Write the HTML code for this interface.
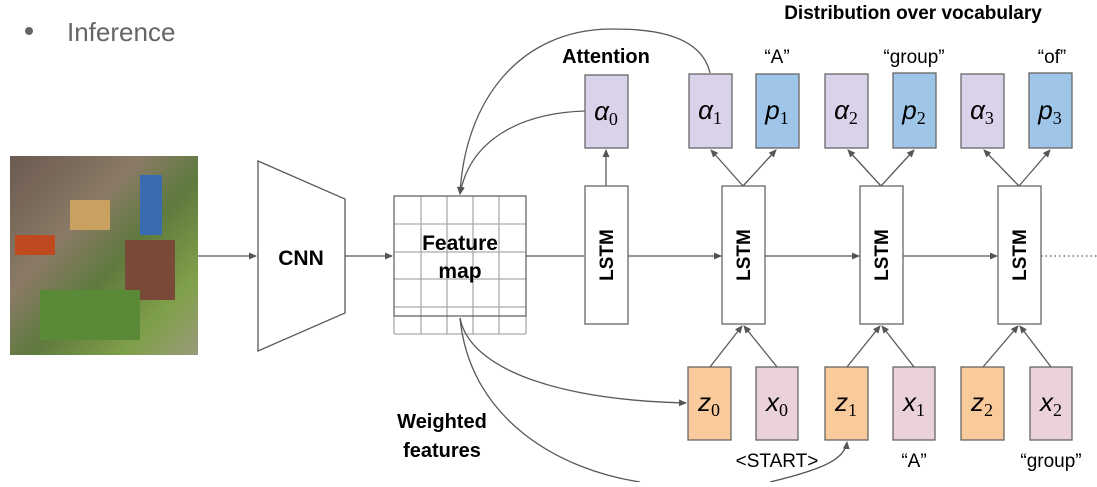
<!DOCTYPE html>
<html><head><meta charset="utf-8"><style>
body{margin:0;background:#fff;}
svg text{font-family:"Liberation Sans",sans-serif;}
.m{font-family:"Liberation Serif",serif;font-style:italic;font-size:26px;}
.s{font-family:"Liberation Serif",serif;font-style:normal;font-size:18px;}
</style></head><body>
<svg width="1097" height="482" viewBox="0 0 1097 482" xmlns="http://www.w3.org/2000/svg">
<defs><marker id="a" markerWidth="8" markerHeight="8" refX="7" refY="4" orient="auto" markerUnits="userSpaceOnUse"><path d="M0,0.5 L8,4 L0,7.5z" fill="#555"/></marker></defs>
<circle cx="29" cy="31" r="4" fill="#666"/>
<text x="67" y="41" font-size="26" fill="#666">Inference</text>
<defs><linearGradient id="ig" x1="0" y1="0" x2="1" y2="1">
<stop offset="0" stop-color="#6b5a50"/><stop offset="0.35" stop-color="#8a7a66"/><stop offset="0.55" stop-color="#5e7a3e"/><stop offset="0.8" stop-color="#7fa04a"/><stop offset="1" stop-color="#9a9a7a"/></linearGradient></defs>
<rect x="10" y="156" width="188" height="199" fill="url(#ig)"/>
<rect x="140" y="175" width="22" height="60" fill="#3a6ab0"/>
<rect x="70" y="200" width="40" height="30" fill="#c8a060"/>
<rect x="125" y="240" width="50" height="60" fill="#7a4a38"/>
<rect x="15" y="235" width="40" height="20" fill="#c04a20"/>
<rect x="40" y="290" width="100" height="50" fill="#5a8a38"/>
<g stroke="#595959" stroke-width="1.3" fill="none">
<line x1="198" y1="256" x2="256" y2="256" marker-end="url(#a)"/>
<polygon points="258,161 345,199 345,313 258,351" fill="#fff"/>
<line x1="345" y1="256" x2="392" y2="256" marker-end="url(#a)"/>
</g>
<text x="301" y="265" font-size="21" font-weight="bold" text-anchor="middle">CNN</text>
<g stroke="#aaa" stroke-width="1.3">
<line x1="421" y1="196" x2="421" y2="334"/><line x1="447" y1="196" x2="447" y2="334"/><line x1="473" y1="196" x2="473" y2="334"/><line x1="499" y1="196" x2="499" y2="334"/>
<line x1="394" y1="224" x2="526" y2="224"/><line x1="394" y1="252" x2="526" y2="252"/><line x1="394" y1="279" x2="526" y2="279"/><line x1="394" y1="307" x2="526" y2="307"/><line x1="394" y1="334" x2="526" y2="334"/>
<line x1="394" y1="316" x2="394" y2="334"/><line x1="526" y1="316" x2="526" y2="334"/>
</g>
<rect x="394" y="196" width="132" height="120" fill="none" stroke="#666" stroke-width="1.3"/>
<text x="460" y="250" font-size="21" font-weight="bold" text-anchor="middle">Feature</text>
<text x="460" y="278" font-size="21" font-weight="bold" text-anchor="middle">map</text>
<g stroke="#595959" stroke-width="1.3" fill="none">
<line x1="526" y1="256" x2="584" y2="256"/>
<line x1="627" y1="256" x2="721" y2="256" marker-end="url(#a)"/>
<line x1="765" y1="256" x2="859" y2="256" marker-end="url(#a)"/>
<line x1="903" y1="256" x2="997" y2="256" marker-end="url(#a)"/>
<line x1="1041" y1="256" x2="1097" y2="256" stroke-dasharray="1.5 3"/>
<path d="M585,111 C520,113 470,140 460,194" marker-end="url(#a)"/>
<path d="M710,73 C700,30 640,29 610,29 C520,30 465,100 460,194" marker-end="url(#a)"/>
<line x1="606" y1="186" x2="606" y2="150" marker-end="url(#a)"/>
<path d="M460,318 C470,370 560,400 686,403" marker-end="url(#a)"/>
<path d="M460,318 C470,420 560,470 640,482"/>
<path d="M770,482 C820,470 845,460 847,442" marker-end="url(#a)"/>
</g>
<text x="606" y="63" font-size="20" font-weight="bold" text-anchor="middle">Attention</text>
<text x="913" y="19" font-size="19" font-weight="bold" text-anchor="middle">Distribution over vocabulary</text>
<text x="442" y="428" font-size="20" font-weight="bold" text-anchor="middle">Weighted</text>
<text x="442" y="457" font-size="20" font-weight="bold" text-anchor="middle">features</text>
<g stroke="#666" stroke-width="1.3" fill="#fff">
<rect x="585" y="186" width="43" height="138"/>
<rect x="722" y="186" width="43" height="138"/>
<rect x="860" y="186" width="43" height="138"/>
<rect x="998" y="186" width="43" height="138"/>
</g>
<g font-size="19" font-weight="bold">
<text transform="translate(613,255) rotate(-90)" text-anchor="middle">LSTM</text>
<text transform="translate(750,255) rotate(-90)" text-anchor="middle">LSTM</text>
<text transform="translate(888,255) rotate(-90)" text-anchor="middle">LSTM</text>
<text transform="translate(1026,255) rotate(-90)" text-anchor="middle">LSTM</text>
</g>
<g stroke="#666" stroke-width="1.3">
<rect x="585" y="75" width="43" height="73" fill="#d9d2e9"/>
<rect x="689" y="74" width="43" height="74" fill="#d9d2e9"/>
<rect x="756" y="74" width="43" height="74" fill="#9fc5e8"/>
<rect x="825" y="74" width="43" height="74" fill="#d9d2e9"/>
<rect x="893" y="73" width="43" height="75" fill="#9fc5e8"/>
<rect x="961" y="74" width="43" height="74" fill="#d9d2e9"/>
<rect x="1029" y="73" width="43" height="75" fill="#9fc5e8"/>
<rect x="688" y="367" width="43" height="73" fill="#f9cb9c"/>
<rect x="756" y="367" width="42" height="73" fill="#ead1dc"/>
<rect x="825" y="367" width="43" height="73" fill="#f9cb9c"/>
<rect x="893" y="367" width="42" height="73" fill="#ead1dc"/>
<rect x="961" y="367" width="43" height="73" fill="#f9cb9c"/>
<rect x="1030" y="367" width="42" height="73" fill="#ead1dc"/>
</g>
<g stroke="#595959" stroke-width="1.3">
<line x1="743" y1="186" x2="711" y2="150" marker-end="url(#a)"/><line x1="743" y1="186" x2="776" y2="150" marker-end="url(#a)"/>
<line x1="881" y1="186" x2="848" y2="150" marker-end="url(#a)"/><line x1="881" y1="186" x2="914" y2="150" marker-end="url(#a)"/>
<line x1="1019" y1="186" x2="984" y2="150" marker-end="url(#a)"/><line x1="1019" y1="186" x2="1050" y2="150" marker-end="url(#a)"/>
<line x1="710" y1="367" x2="742" y2="326" marker-end="url(#a)"/><line x1="777" y1="367" x2="744" y2="326" marker-end="url(#a)"/>
<line x1="847" y1="367" x2="880" y2="326" marker-end="url(#a)"/><line x1="914" y1="367" x2="882" y2="326" marker-end="url(#a)"/>
<line x1="983" y1="367" x2="1018" y2="326" marker-end="url(#a)"/><line x1="1051" y1="367" x2="1020" y2="326" marker-end="url(#a)"/>
</g>
<g class="m" text-anchor="middle">
<text x="606" y="120">α<tspan class="s" dy="5">0</tspan></text>
<text x="710" y="119">α<tspan class="s" dy="5">1</tspan></text>
<text x="777" y="119">p<tspan class="s" dy="5">1</tspan></text>
<text x="846" y="119">α<tspan class="s" dy="5">2</tspan></text>
<text x="914" y="119">p<tspan class="s" dy="5">2</tspan></text>
<text x="982" y="119">α<tspan class="s" dy="5">3</tspan></text>
<text x="1050" y="119">p<tspan class="s" dy="5">3</tspan></text>
<text x="709" y="411">z<tspan class="s" dy="5">0</tspan></text>
<text x="777" y="411">x<tspan class="s" dy="5">0</tspan></text>
<text x="846" y="411">z<tspan class="s" dy="5">1</tspan></text>
<text x="914" y="411">x<tspan class="s" dy="5">1</tspan></text>
<text x="982" y="411">z<tspan class="s" dy="5">2</tspan></text>
<text x="1051" y="411">x<tspan class="s" dy="5">2</tspan></text>
</g>
<g font-size="19" text-anchor="middle">
<text x="777" y="63">“A”</text>
<text x="914" y="63">“group”</text>
<text x="1052" y="63">“of”</text>
<text x="777" y="467">&lt;START&gt;</text>
<text x="914" y="467">“A”</text>
<text x="1051" y="467">“group”</text>
</g>
</svg>
</body></html>
